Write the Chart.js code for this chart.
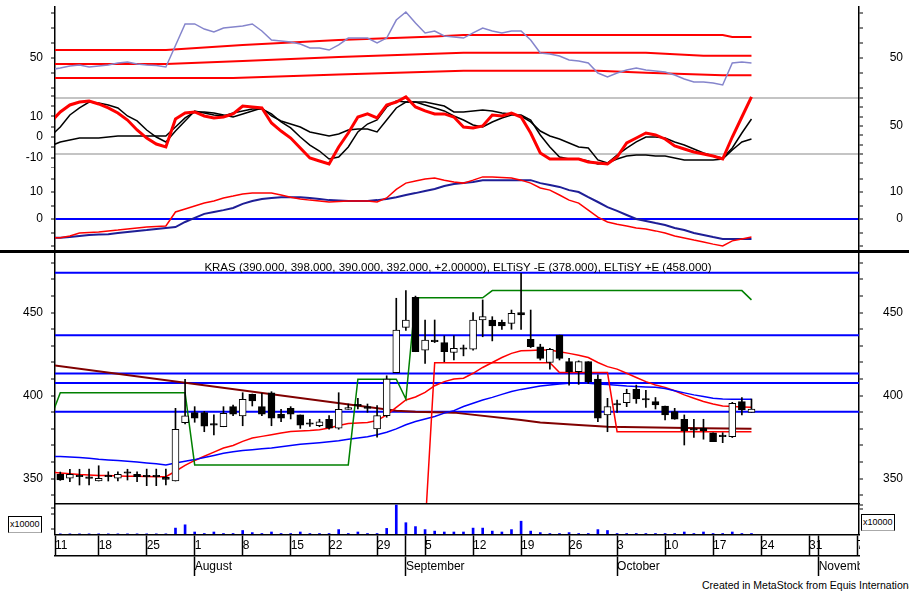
<!DOCTYPE html>
<html>
<head>
<meta charset="utf-8">
<script src="https://cdn.jsdelivr.net/npm/chart.js@4.4.1/dist/chart.umd.min.js"></script>
<style>
  body { margin: 0; background: #fff; width: 909px; height: 602px; overflow: hidden; position: relative; font-family: "Liberation Sans", Arial, sans-serif; }
  canvas { position: absolute; left: 0; }
  .sep { position: absolute; left: 0; top: 250px; width: 909px; height: 3px; background: #000; }
  .title { position: absolute; left: 0; top: 260px; width: 916px; text-align: center; font-size: 11.5px; line-height: 14px; color: #000; white-space: nowrap; }
  .mult { position: absolute; font-size: 9px; line-height: 15px; color: #000; border: 1px solid #000; border-bottom-color: #aaa; padding: 0 1px; background: #fff; }
  .footer { position: absolute; left: 702px; top: 579px; font-size: 10.5px; line-height: 13px; color: #000; white-space: nowrap; }
  .dates { position: absolute; left: 0; top: 526px; width: 860px; height: 50px; overflow: hidden; }
</style>
</head>
<body>
<canvas id="rsi" width="909" height="92" style="top:0px"></canvas>
<canvas id="stoch" width="909" height="76" style="top:92px"></canvas>
<canvas id="macd" width="909" height="83" style="top:168px"></canvas>
<div class="sep"></div>
<canvas id="price" width="909" height="251" style="top:253px"></canvas>
<div class="title">KRAS (390.000, 398.000, 390.000, 392.000, +2.00000), ELTiSY -E (378.000), ELTiSY +E (458.000)</div>
<canvas id="volume" width="909" height="32" style="top:503px"></canvas>
<div class="mult" style="left:8px; top:516px;">x10000</div>
<div class="mult" style="left:861px; top:514px;">x10000</div>
<div class="dates"><canvas id="dates" width="909" height="50" style="top:0px"></canvas></div>
<div class="footer">Created in MetaStock from Equis International</div>

<script>
const FONT = '"Liberation Sans", Arial, sans-serif'

// x runs in trading days, 0 = 11 July
const xMin = 0.45
const xMax = 84.2

const dayTicks = [xMin, 5, 10, 15, 20, 25, 29, 34, 37, 39, 44, 49, 54, 59, 64, 69, 74, 79, 80, 84]
const dayLabels = ['11', '18', '25', '1', '8', '15', '22', '29', '', '5', '12', '19', '26', '3', '10', '17', '24', '31', '', '7']
const monthTicks = [15, 37, 59, 80]
const monthLabels = ['August', 'September', 'October', 'November']

// candles, days 1..73
const openVals = [352.7, 350.3, 351.2, 350.2, 348.6, 351.2, 350.3, 353.3, 352.7, 351.2,
  351.2, 350.8, 348.6, 383.7, 389.8, 389.8, 382.3, 381.3, 393.4, 387.8,
  400.8, 393.4, 401.8, 388.8, 392.4, 388.4, 382.8, 381.9, 385.8, 380.4,
  391.8, 394.8, 393.4, 380, 388, 413.9, 441.2, 459.3, 427.5, 433.5,
  432, 426, 428, 428, 445.6, 445.6, 444.2, 443.6, 450, 434,
  429.5, 420, 436.5, 420.5, 414.5, 420.5, 410, 388.4, 394.4, 395.8,
  403.9, 397.4, 396.4, 393.8, 390.4, 385.8, 379.3, 380.4, 377.7, 375.3,
  375.3, 396.4, 390]
const highVals = [354, 355.7, 355.7, 355.8, 357.8, 354.2, 354.2, 355.7, 354.2, 355.8,
  355.8, 355.8, 392.4, 409.9, 393.4, 390.5, 388.4, 393.4, 394.4, 401.8,
  401, 401.4, 402.4, 391.8, 393.4, 388.4, 385.8, 385.8, 388, 401.8,
  395, 398.4, 395, 394, 412, 458.7, 463.3, 460, 445.6, 445.6,
  436, 436, 430.5, 450, 457.7, 447.6, 445.6, 451.6, 473.7, 451.6,
  431, 428.5, 436.5, 422.5, 421, 420.5, 412.5, 398.4, 397.4, 403.9,
  406.4, 403.3, 398.9, 393.8, 392.4, 388.4, 385.8, 385.8, 377.7, 377.7,
  396, 398.9, 398]
const lowVals = [349, 348.2, 346.2, 346.2, 348.6, 348.6, 348.6, 349.2, 348.2, 345.8,
  345.8, 346.2, 348.6, 383, 384, 378.3, 376.3, 381.3, 388, 381.9,
  393.8, 388, 381.9, 384.4, 386, 380.3, 381.5, 381.3, 379.8, 379.8,
  391.8, 392, 390, 375, 387, 413.9, 439.3, 426.5, 419.5, 432,
  420.5, 421.5, 424, 427.5, 435.5, 433, 440, 440, 440, 429,
  421.5, 416, 421.5, 406.4, 406.8, 407.4, 384.4, 378.3, 390, 393.4,
  395.4, 392.9, 392, 385.4, 385.8, 370.3, 374.8, 373.8, 372.3, 371.7,
  374.8, 388.4, 390]
const closeVals = [349.2, 352.7, 351.2, 350.2, 350.2, 351.2, 352.7, 353.3, 351.2, 351.2,
  351.2, 349.6, 379.8, 387.8, 386.4, 381.7, 382.3, 389.4, 388.8, 397.8,
  396.8, 388.8, 386.4, 386.4, 388.8, 382.3, 382.8, 384.3, 380.4, 391.8,
  392.8, 393.8, 392.4, 388, 410, 439.6, 445.6, 426.5, 433.5, 432.5,
  426.5, 428.5, 428, 445.6, 447.6, 442, 442, 449.6, 448.6, 429.5,
  422.5, 428, 422.5, 414.5, 420.5, 408.4, 386.4, 393.4, 394.4, 401.4,
  398, 397.4, 394.4, 388.4, 385.8, 378.9, 379.3, 378.9, 372.3, 375.3,
  395.4, 391.4, 392]
const volVals = [4, 4, 4, 4, 4, 4, 4, 4, 4, 4, 4, 4,
  23, 34, 10, 5, 10, 5, 5, 15,
  8, 5, 10, 5, 5, 10, 5, 5, 5, 18,
  5, 10, 5, 5, 22, 100, 41, 28, 18, 13,
  10, 10, 10, 23, 23, 13, 10, 18, 46, 13,
  8, 5, 5, 8, 5, 5, 18, 15, 5, 5,
  5, 5, 5, 5, 5, 10, 5, 10, 5, 5,
  10, 5, 5]

// price overlays, days 0..73
const maShort = [354, 353.5, 353, 352.5, 352.3, 352, 352, 351.7, 351.5, 351.5,
  351.3, 351.2, 351.2, 354.5, 358, 361, 363.5, 366, 368.5, 370,
  372.5, 374.5, 375.5, 376.5, 377.5, 378.5, 378.8, 379, 379.5, 380.5,
  382, 383.3, 383.6, 383.8, 385, 388.4, 393, 397.4, 399.2, 402,
  406, 408.5, 410, 410.5, 413.5, 417, 420, 423, 425.5, 427.1,
  427.3, 427.5, 427.5, 426.5, 425.5, 424.3, 423, 420, 417.5, 416,
  413.5, 411, 408.5, 406.5, 405, 403, 400.5, 398.5, 396.5, 395,
  393.8, 393.5, 393.2, 393]
const maLong = [363.5, 363.3, 363, 362.8, 362.3, 361.7, 361.3, 361, 360.5, 360,
  359.5, 359, 358.3, 359.5, 360.5, 361.5, 362.8, 364, 365.3, 366.3,
  367, 367.5, 368, 368.5, 369.3, 370, 370.7, 371.2, 371.7, 372.2,
  372.8, 373.8, 374.5, 375.3, 376.5, 378, 380, 382.5, 384.5, 386,
  387.5, 389.5, 391, 393.5, 395.5, 397.4, 399, 400.8, 402.5, 403.8,
  404.8, 405.8, 406.4, 407, 407.5, 407.8, 407.5, 407, 406.8, 406.3,
  405.8, 405.5, 405.3, 405.1, 404.3, 403, 401.7, 400.5, 399.5, 398.5,
  398, 397.8, 397.8, 397.8]
const greenX = [0, 1, 14, 15, 31, 32, 36, 37, 38, 45, 46, 72, 73]
const greenY = [386.5, 401.8, 401.8, 358.3, 358.3, 409.9, 409.9, 398, 459, 459, 463.3, 463.3, 457.7]
const redStepX = [39, 40, 52, 53, 58, 59, 73]
const redStepY = [320, 419.9, 419.9, 413.9, 413.9, 378.3, 378.3]
const brownX = [0, 36, 38, 42, 49, 51, 55, 58, 68, 73]
const brownY = [418.5, 391, 390.4, 389.8, 385.4, 383.8, 382.3, 381.3, 380.4, 380.1]
const levelLines = [474, 436.4, 413.3, 407.7, 390.4]

// top panel
const rsiVals = [42.3, 43.3, 44.7, 45.3, 44, 44.7, 45.3, 46.7, 47.3, 46,
  45.3, 45, 44, 58.3, 72.7, 72.7, 69.3, 67.3, 70, 70.7,
  71.3, 72.7, 68, 62, 61.3, 60.7, 59.3, 56.7, 56.7, 55.3,
  58.7, 63.3, 63.3, 63.3, 60, 63.3, 75.3, 80.7, 73.3, 66.7,
  68, 64.7, 64, 63.3, 66.7, 70, 68, 66.7, 68, 68,
  62, 53.3, 52.7, 51.3, 48.7, 48, 46.7, 40, 37.3, 40,
  42, 43.3, 42, 41.3, 40.7, 38.7, 36, 34, 34, 33.3,
  32, 46.7, 47.3, 46.7]
const bandTopX = [0, 12, 20, 30, 40, 43, 70, 71, 73]
const bandTopY = [55.3, 55.3, 58.7, 62, 64.3, 65.3, 65.3, 64, 64]
const bandMidX = [0, 12, 20, 30, 43, 62, 68, 73]
const bandMidY = [46, 46, 48, 50.7, 53.5, 53.5, 51.5, 51.5]
const bandLowX = [0, 19, 30, 43, 57, 62, 70, 73]
const bandLowY = [36.7, 36.7, 39, 41.5, 41.5, 40.2, 38.5, 38.5]

// stochastic panel
const stochK = [54.3, 65, 72.5, 75.7, 76.8, 73.6, 69.3, 63.9, 56.4, 45.7,
  37.1, 30.7, 27.5, 57.5, 63.9, 65, 60.7, 58.6, 59.6, 62.9,
  71.4, 70.4, 69.3, 53.2, 44.6, 37.1, 26.4, 15.7, 12.5, 9.3,
  27.5, 42.5, 59.6, 62.9, 58.6, 72.5, 75.7, 81.1, 70.4, 66.1,
  62.9, 62.9, 59.6, 48.9, 47.9, 50, 61.8, 60.7, 63.9, 59.6,
  42.5, 21.1, 14.6, 14.6, 14.6, 14.6, 11.4, 10.3, 9.3, 16.8,
  31.8, 37.1, 42.5, 40.4, 36.1, 28.6, 25.3, 22.1, 20, 17.8,
  14.6, 38.2, 59.6, 81.1]
const stochD = [39.3, 48.9, 61.8, 69.3, 75.7, 74.7, 72.5, 69.3, 60.7, 55.4,
  45.7, 38.2, 32.9, 44.6, 55.4, 66.1, 63.9, 61.8, 60.7, 63.9,
  66.1, 68.2, 68.2, 62.9, 54.3, 47.9, 38.2, 29.6, 23.2, 14.6,
  16.8, 27.5, 43.6, 52.1, 56.4, 70.4, 76.8, 75.7, 75.7, 72.5,
  69.3, 66.1, 60.7, 56.4, 51.1, 48.9, 54.3, 58.6, 61.8, 61.8,
  56.4, 40.4, 27.5, 16.8, 14.6, 14.6, 12.5, 9.3, 10.3, 18.9,
  26.4, 32.9, 38.2, 38.2, 37.1, 32.9, 29.6, 25.3, 21.1, 17.8,
  15.7, 26.4, 42.5, 57.5]
const stochSlow = [28.6, 32.9, 35, 37.1, 37.1, 37.1, 38.2, 39.3, 39.3, 39.3,
  39.3, 39.3, 39.3, 48.9, 58.6, 65, 65, 63.9, 61.8, 59.6,
  62.9, 66.1, 69.3, 60.7, 55.4, 52.1, 48.9, 43.6, 41.4, 39.3,
  41.4, 45.7, 46.8, 46.8, 43.6, 56.4, 69.3, 75.7, 75.7, 75.7,
  73.6, 71.4, 65, 65, 66.1, 67.1, 66.1, 63.9, 62.9, 60.7,
  54.3, 44.6, 39.3, 36.1, 31.8, 27.5, 26.4, 13.6, 10.3, 14.6,
  17.8, 18.9, 18.9, 17.8, 17.8, 15.7, 13.6, 13.6, 13.6, 13.6,
  14.6, 24.3, 32.9, 36.1]

// macd panel
const macdLine = [-7, -6.9, -6.3, -5.2, -5, -4.8, -4.4, -4.1, -3.7, -3.3,
  -3, -2.8, -2.6, 2.6, 3.7, 4.8, 5.9, 6.7, 7.8, 8.5,
  9.3, 9.6, 9.6, 9.6, 8.9, 8.1, 7.4, 7, 6.7, 6.3,
  6.5, 6.7, 6.7, 6.7, 6.3, 7.8, 11, 13.3, 14.1, 14.8,
  15.2, 14.4, 13.7, 13.3, 14.4, 15.6, 15.6, 15.4, 15.2, 14.4,
  13.3, 11.5, 10.7, 8.9, 7, 5.9, 3.3, 0.7, -1.1, -1.9,
  -2.6, -3.3, -3.7, -4.4, -5.2, -6.3, -7, -7.8, -8.5, -9.3,
  -10, -8.1, -7.4, -6.7]
const macdSignal = [-7, -6.9, -6.7, -6.3, -5.9, -5.7, -5.6, -5.2, -4.8, -4.4,
  -4.1, -3.7, -3.3, -3, -1.1, 0.4, 1.9, 2.6, 3.3, 4.1,
  5.6, 6.7, 7.4, 7.8, 8.1, 8.1, 8.1, 7.8, 7.4, 7,
  6.9, 6.7, 6.7, 6.7, 7, 7.4, 8.1, 8.9, 9.6, 10.4,
  11.1, 12.2, 13, 13.3, 13.7, 14.4, 14.4, 14.4, 14.4, 14.4,
  14.4, 13.3, 12.6, 11.9, 10.7, 10, 8.1, 6.3, 4.4, 3,
  1.5, 0, -0.7, -1.5, -2.2, -3.3, -4.1, -5.2, -5.9, -6.7,
  -7.4, -7.4, -7.4, -7.4]

const days = openVals.map((_, k) => k + 1)
const pts = arr => arr.map((v, i) => ({ x: i, y: v }))
const vtx = (xs, ys) => xs.map((x, k) => ({ x, y: ys[k] }))

function line (data, color, width, yAxisID, order) {
  return { type: 'line', data, borderColor: color, borderWidth: width, pointRadius: 0, tension: 0, fill: false, xAxisID: 'x', yAxisID, order: order || 1 }
}

function yAxis (position, min, max, step, labels, gridColor, tickValues) {
  return {
    type: 'linear',
    position,
    min,
    max,
    afterBuildTicks: tickValues ? s => { s.ticks = tickValues.map(v => ({ value: v })) } : undefined,
    ticks: {
      stepSize: step,
      includeBounds: false,
      autoSkip: false,
      color: '#000',
      font: { family: FONT, size: 12 },
      padding: position === 'left' ? 8 : 0,
      crossAlign: position === 'left' ? 'near' : 'far',
      callback: v => labels.some(l => Math.abs(l - v) < 1e-6) ? String(v) : '',
    },
    grid: {
      drawOnChartArea: !!gridColor,
      color: gridColor || 'rgba(0,0,0,0)',
      lineWidth: 2,
      tickLength: 4,
      tickColor: '#000',
      tickWidth: 1,
    },
    border: { color: '#000', width: 1.5 },
    afterFit: s => {
      s.width = position === 'left' ? 55 : 44
      s.paddingTop = 0
      s.paddingBottom = 0
    },
  }
}

function base (padTop, scales) {
  return {
    responsive: false,
    animation: false,
    devicePixelRatio: 1,
    layout: { padding: { top: padTop, right: 6, left: 0, bottom: 0 } },
    plugins: { legend: { display: false }, tooltip: { enabled: false } },
    scales: Object.assign({ x: { type: 'linear', min: xMin, max: xMax, display: false, offset: false } }, scales),
  }
}

new Chart(document.getElementById('rsi'), {
  type: 'line',
  data: {
    datasets: [
      line(vtx(bandTopX, bandTopY), '#ff0000', 2, 'yL', 2),
      line(vtx(bandMidX, bandMidY), '#ff0000', 2, 'yL', 2),
      line(vtx(bandLowX, bandLowY), '#ff0000', 2, 'yL', 2),
      line(pts(rsiVals), '#8585cc', 1.5, 'yL', 1),
    ],
  },
  options: base(7, {
    yL: yAxis('left', 27.33, 84, 10, [50]),
    yR: yAxis('right', 27.33, 84, 10, [50]),
  }),
})

const stochGrid = ctx => (ctx.tick && (ctx.tick.value === 20 || ctx.tick.value === 80)) ? '#c4c4c4' : 'rgba(0,0,0,0)'

new Chart(document.getElementById('stoch'), {
  type: 'line',
  data: {
    datasets: [
      line(pts(stochSlow), '#000000', 1.5, 'yR', 3),
      line(pts(stochD), '#000000', 1.5, 'yR', 2),
      line(pts(stochK), '#ff0000', 3, 'yR', 1),
    ],
  },
  options: base(0, {
    yL: yAxis('left', -15.12, 21.95, 5, [-10, 0, 10]),
    yR: yAxis('right', 5, 86.4, 10, [50], stochGrid),
  }),
})

const zeroGrid = ctx => (ctx.tick && ctx.tick.value === 0) ? '#0000ff' : 'rgba(0,0,0,0)'

new Chart(document.getElementById('macd'), {
  type: 'line',
  data: {
    datasets: [
      line(pts(macdSignal), '#1e1e96', 2, 'yL', 2),
      line(pts(macdLine), '#ff0000', 1.5, 'yL', 1),
    ],
  },
  options: base(0, {
    yL: yAxis('left', -11.85, 18.9, 5, [0, 10], zeroGrid),
    yR: yAxis('right', -11.85, 18.9, 5, [0, 10]),
  }),
})

new Chart(document.getElementById('price'), {
  type: 'bar',
  data: {
    datasets: [
      ...levelLines.map(v => line([{ x: xMin, y: v }, { x: xMax, y: v }], '#0000ff', 2, 'yL', 6)),
      line(vtx(brownX, brownY), '#800000', 2, 'yL', 5),
      line(pts(maLong), '#0000ff', 1.5, 'yL', 4),
      line(pts(maShort), '#ff0000', 1.5, 'yL', 4),
      line(vtx(greenX, greenY), '#008000', 1.5, 'yL', 3),
      line(vtx(redStepX, redStepY), '#ff0000', 1.5, 'yL', 3),
      {
        type: 'bar',
        data: days.map((d, k) => ({ x: d, y: [lowVals[k], highVals[k]] })),
        backgroundColor: '#000',
        barThickness: 1,
        grouped: false,
        xAxisID: 'x',
        yAxisID: 'yL',
        order: 1,
      },
      {
        type: 'bar',
        data: days.map((d, k) => ({ x: d, y: [openVals[k], closeVals[k]] })),
        backgroundColor: ctx => closeVals[ctx.dataIndex] > openVals[ctx.dataIndex] ? '#ffffff' : '#000000',
        borderColor: '#000',
        borderWidth: 1,
        borderSkipped: false,
        barThickness: 7,
        minBarLength: 1.5,
        grouped: false,
        xAxisID: 'x',
        yAxisID: 'yL',
        order: 0,
      },
    ],
  },
  options: base(0, {
    yL: yAxis('left', 334.76, 485.96, 10, [350, 400, 450]),
    yR: yAxis('right', 334.76, 485.96, 10, [350, 400, 450]),
  }),
})

const volOptions = base(1, {
  yL: yAxis('left', 0, 103.3, 10, [], null, [20, 70, 90]),
  yR: yAxis('right', 0, 103.3, 10, [], null, [85, 100]),
})
volOptions.scales.x = {
  type: 'linear',
  min: xMin,
  max: xMax,
  position: 'top',
  offset: false,
  ticks: { display: false },
  grid: { drawOnChartArea: false, drawTicks: false },
  border: { color: '#000', width: 1.5 },
  afterFit: s => { s.height = 0; s.paddingLeft = 0; s.paddingRight = 0 },
}

new Chart(document.getElementById('volume'), {
  type: 'bar',
  data: {
    datasets: [{
      data: days.map((d, k) => ({ x: d, y: volVals[k] })),
      backgroundColor: '#0000ff',
      barThickness: 2,
      grouped: false,
      xAxisID: 'x',
      yAxisID: 'yL',
    }],
  },
  options: volOptions,
})

function dateAxis (values, labels, rowH, pad, weight) {
  return {
    type: 'linear',
    axis: 'x',
    position: 'bottom',
    weight,
    min: xMin,
    max: xMax,
    offset: false,
    afterBuildTicks: s => { s.ticks = values.map(v => ({ value: v })) },
    ticks: {
      autoSkip: false,
      maxRotation: 0,
      minRotation: 0,
      align: 'start',
      padding: pad,
      color: '#000',
      font: { family: FONT, size: 12 },
      callback: (v, i) => labels[i],
    },
    grid: { drawOnChartArea: false, drawTicks: true, tickLength: rowH, tickColor: '#000', tickWidth: 1.5 },
    border: { color: '#000', width: 1.5 },
    afterFit: s => { s.height = rowH; s.paddingLeft = 0; s.paddingRight = 0 },
  }
}

new Chart(document.getElementById('dates'), {
  type: 'line',
  data: { datasets: [] },
  options: {
    responsive: false,
    animation: false,
    devicePixelRatio: 1,
    layout: { padding: { left: 55, right: 50, top: 0, bottom: 0 } },
    plugins: { legend: { display: false }, tooltip: { enabled: false } },
    scales: {
      x: dateAxis(dayTicks, dayLabels, 21, -17.7, 0),
      xm: dateAxis(monthTicks, monthLabels, 20, -16.2, 1),
      y: { display: false },
    },
  },
})
</script>
</body>
</html>
